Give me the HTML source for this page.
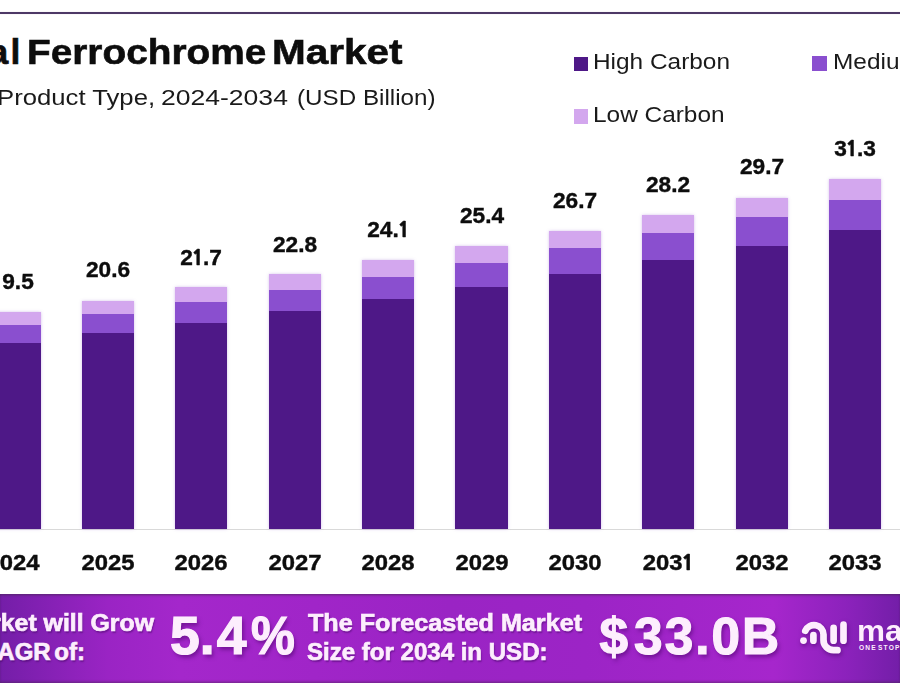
<!DOCTYPE html>
<html><head><meta charset="utf-8"><style>
html,body{margin:0;padding:0;}
body{width:900px;height:700px;overflow:hidden;position:relative;background:#fff;font-family:'Liberation Sans', Arial, sans-serif;}
.t{position:absolute;white-space:nowrap;line-height:1;}
.bar{position:absolute;box-shadow:0 0 3px rgba(140,90,200,0.35);}
.seg{position:absolute;left:0;width:100%;}
.n1{font-family:'NanumGothic','Liberation Sans',sans-serif;font-weight:800;font-size:0.91em;margin:0 -1.2px 0 -1.2px;}
</style></head><body>
<div style="position:absolute;left:0;top:12px;width:900px;height:2px;background:#4d3866;box-shadow:0 0 1px rgba(120,60,140,0.35);"></div>
<div class="t" style="left:-577.50px;width:600px;text-align:right;top:35.25px;font-size:35.5px;font-weight:700;color:#0d0d0d;letter-spacing:2.2px;-webkit-text-stroke:0.6px #0d0d0d;">Global</div>
<div class="t" style="left:27.10px;top:35.25px;font-size:35.5px;font-weight:700;color:#0d0d0d;letter-spacing:0px;transform:scaleX(1.0926);transform-origin:0 0;-webkit-text-stroke:0.6px #0d0d0d;">Ferrochrome</div>
<div class="t" style="left:272.40px;top:35.25px;font-size:35.5px;font-weight:700;color:#0d0d0d;letter-spacing:0px;transform:scaleX(1.141);transform-origin:0 0;-webkit-text-stroke:0.6px #0d0d0d;">Market</div>
<div class="t" style="left:-2.80px;top:86.78px;font-size:22px;font-weight:400;color:#1a1a1a;letter-spacing:0px;transform:scaleX(1.168);transform-origin:0 0;">Product Type,</div>
<div class="t" style="left:161.00px;top:86.78px;font-size:22px;font-weight:400;color:#1a1a1a;letter-spacing:0px;transform:scaleX(1.206);transform-origin:0 0;">2024-2034</div>
<div class="t" style="left:296.80px;top:86.78px;font-size:22px;font-weight:400;color:#1a1a1a;letter-spacing:0px;transform:scaleX(1.1);transform-origin:0 0;">(USD Billion)</div>
<div style="position:absolute;left:573.5px;top:56.5px;width:14.5px;height:14.5px;background:#4e1887;"></div>
<div class="t" style="left:593.20px;top:51.80px;font-size:21.5px;font-weight:400;color:#1a1a1a;letter-spacing:0px;transform:scaleX(1.135);transform-origin:0 0;">High Carbon</div>
<div style="position:absolute;left:812px;top:56.3px;width:14.5px;height:14.5px;background:#8a4fcf;"></div>
<div class="t" style="left:832.50px;top:51.80px;font-size:21.5px;font-weight:400;color:#1a1a1a;letter-spacing:0px;transform:scaleX(1.135);transform-origin:0 0;">Medium Carbon</div>
<div style="position:absolute;left:573.5px;top:109px;width:14.5px;height:14.5px;background:#d3a7ee;"></div>
<div class="t" style="left:593.20px;top:105.00px;font-size:21.5px;font-weight:400;color:#1a1a1a;letter-spacing:0px;transform:scaleX(1.135);transform-origin:0 0;">Low Carbon</div>
<div style="position:absolute;left:0;top:529px;width:900px;height:1px;background:#d9d9d9;"></div>
<div class="bar" style="left:-11.49px;top:311.80px;width:52.2px;height:217.00px;background:#4e1887;"><div class="seg" style="top:0;height:12.80px;background:#d3a7ee;"></div><div class="seg" style="top:12.80px;height:18.10px;background:#8a4fcf;"></div></div>
<div class="t" style="left:-287.39px;width:600px;text-align:center;top:270.78px;font-size:22px;font-weight:700;color:#0d0d0d;letter-spacing:0px;transform:scaleX(1.03);transform-origin:50% 0;-webkit-text-stroke:0.4px #0d0d0d;"><span class="n1">1</span>9.5</div>
<div class="t" style="left:-286.59px;width:600px;text-align:center;top:552.32px;font-size:22.3px;font-weight:700;color:#0d0d0d;letter-spacing:0px;transform:scaleX(1.07);transform-origin:50% 0;-webkit-text-stroke:0.4px #0d0d0d;">2024</div>
<div class="bar" style="left:81.90px;top:300.50px;width:52.2px;height:228.30px;background:#4e1887;"><div class="seg" style="top:0;height:13.00px;background:#d3a7ee;"></div><div class="seg" style="top:13.00px;height:19.50px;background:#8a4fcf;"></div></div>
<div class="t" style="left:-192.00px;width:600px;text-align:center;top:259.08px;font-size:22px;font-weight:700;color:#0d0d0d;letter-spacing:0px;transform:scaleX(1.03);transform-origin:50% 0;-webkit-text-stroke:0.4px #0d0d0d;">20.6</div>
<div class="t" style="left:-192.00px;width:600px;text-align:center;top:552.32px;font-size:22.3px;font-weight:700;color:#0d0d0d;letter-spacing:0px;transform:scaleX(1.07);transform-origin:50% 0;-webkit-text-stroke:0.4px #0d0d0d;">2025</div>
<div class="bar" style="left:175.29px;top:286.90px;width:52.2px;height:241.90px;background:#4e1887;"><div class="seg" style="top:0;height:14.90px;background:#d3a7ee;"></div><div class="seg" style="top:14.90px;height:21.10px;background:#8a4fcf;"></div></div>
<div class="t" style="left:-98.61px;width:600px;text-align:center;top:246.78px;font-size:22px;font-weight:700;color:#0d0d0d;letter-spacing:0px;transform:scaleX(1.03);transform-origin:50% 0;-webkit-text-stroke:0.4px #0d0d0d;">2<span class="n1">1</span>.7</div>
<div class="t" style="left:-98.61px;width:600px;text-align:center;top:552.32px;font-size:22.3px;font-weight:700;color:#0d0d0d;letter-spacing:0px;transform:scaleX(1.07);transform-origin:50% 0;-webkit-text-stroke:0.4px #0d0d0d;">2026</div>
<div class="bar" style="left:268.68px;top:274.40px;width:52.2px;height:254.40px;background:#4e1887;"><div class="seg" style="top:0;height:15.60px;background:#d3a7ee;"></div><div class="seg" style="top:15.60px;height:21.30px;background:#8a4fcf;"></div></div>
<div class="t" style="left:-5.22px;width:600px;text-align:center;top:233.78px;font-size:22px;font-weight:700;color:#0d0d0d;letter-spacing:0px;transform:scaleX(1.03);transform-origin:50% 0;-webkit-text-stroke:0.4px #0d0d0d;">22.8</div>
<div class="t" style="left:-5.22px;width:600px;text-align:center;top:552.32px;font-size:22.3px;font-weight:700;color:#0d0d0d;letter-spacing:0px;transform:scaleX(1.07);transform-origin:50% 0;-webkit-text-stroke:0.4px #0d0d0d;">2027</div>
<div class="bar" style="left:362.07px;top:260.30px;width:52.2px;height:268.50px;background:#4e1887;"><div class="seg" style="top:0;height:16.40px;background:#d3a7ee;"></div><div class="seg" style="top:16.40px;height:22.70px;background:#8a4fcf;"></div></div>
<div class="t" style="left:88.17px;width:600px;text-align:center;top:219.48px;font-size:22px;font-weight:700;color:#0d0d0d;letter-spacing:0px;transform:scaleX(1.03);transform-origin:50% 0;-webkit-text-stroke:0.4px #0d0d0d;">24.<span class="n1">1</span></div>
<div class="t" style="left:88.17px;width:600px;text-align:center;top:552.32px;font-size:22.3px;font-weight:700;color:#0d0d0d;letter-spacing:0px;transform:scaleX(1.07);transform-origin:50% 0;-webkit-text-stroke:0.4px #0d0d0d;">2028</div>
<div class="bar" style="left:455.46px;top:246.20px;width:52.2px;height:282.60px;background:#4e1887;"><div class="seg" style="top:0;height:17.10px;background:#d3a7ee;"></div><div class="seg" style="top:17.10px;height:23.70px;background:#8a4fcf;"></div></div>
<div class="t" style="left:181.56px;width:600px;text-align:center;top:204.88px;font-size:22px;font-weight:700;color:#0d0d0d;letter-spacing:0px;transform:scaleX(1.03);transform-origin:50% 0;-webkit-text-stroke:0.4px #0d0d0d;">25.4</div>
<div class="t" style="left:181.56px;width:600px;text-align:center;top:552.32px;font-size:22.3px;font-weight:700;color:#0d0d0d;letter-spacing:0px;transform:scaleX(1.07);transform-origin:50% 0;-webkit-text-stroke:0.4px #0d0d0d;">2029</div>
<div class="bar" style="left:548.85px;top:231.20px;width:52.2px;height:297.60px;background:#4e1887;"><div class="seg" style="top:0;height:16.80px;background:#d3a7ee;"></div><div class="seg" style="top:16.80px;height:25.70px;background:#8a4fcf;"></div></div>
<div class="t" style="left:274.95px;width:600px;text-align:center;top:189.88px;font-size:22px;font-weight:700;color:#0d0d0d;letter-spacing:0px;transform:scaleX(1.03);transform-origin:50% 0;-webkit-text-stroke:0.4px #0d0d0d;">26.7</div>
<div class="t" style="left:274.95px;width:600px;text-align:center;top:552.32px;font-size:22.3px;font-weight:700;color:#0d0d0d;letter-spacing:0px;transform:scaleX(1.07);transform-origin:50% 0;-webkit-text-stroke:0.4px #0d0d0d;">2030</div>
<div class="bar" style="left:642.24px;top:214.90px;width:52.2px;height:313.90px;background:#4e1887;"><div class="seg" style="top:0;height:18.20px;background:#d3a7ee;"></div><div class="seg" style="top:18.20px;height:27.20px;background:#8a4fcf;"></div></div>
<div class="t" style="left:368.34px;width:600px;text-align:center;top:173.88px;font-size:22px;font-weight:700;color:#0d0d0d;letter-spacing:0px;transform:scaleX(1.03);transform-origin:50% 0;-webkit-text-stroke:0.4px #0d0d0d;">28.2</div>
<div class="t" style="left:368.34px;width:600px;text-align:center;top:552.32px;font-size:22.3px;font-weight:700;color:#0d0d0d;letter-spacing:0px;transform:scaleX(1.07);transform-origin:50% 0;-webkit-text-stroke:0.4px #0d0d0d;">203<span class="n1">1</span></div>
<div class="bar" style="left:735.63px;top:197.90px;width:52.2px;height:330.90px;background:#4e1887;"><div class="seg" style="top:0;height:18.90px;background:#d3a7ee;"></div><div class="seg" style="top:18.90px;height:29.30px;background:#8a4fcf;"></div></div>
<div class="t" style="left:461.73px;width:600px;text-align:center;top:156.08px;font-size:22px;font-weight:700;color:#0d0d0d;letter-spacing:0px;transform:scaleX(1.03);transform-origin:50% 0;-webkit-text-stroke:0.4px #0d0d0d;">29.7</div>
<div class="t" style="left:461.73px;width:600px;text-align:center;top:552.32px;font-size:22.3px;font-weight:700;color:#0d0d0d;letter-spacing:0px;transform:scaleX(1.07);transform-origin:50% 0;-webkit-text-stroke:0.4px #0d0d0d;">2032</div>
<div class="bar" style="left:829.02px;top:179.10px;width:52.2px;height:349.70px;background:#4e1887;"><div class="seg" style="top:0;height:20.90px;background:#d3a7ee;"></div><div class="seg" style="top:20.90px;height:29.80px;background:#8a4fcf;"></div></div>
<div class="t" style="left:555.12px;width:600px;text-align:center;top:138.08px;font-size:22px;font-weight:700;color:#0d0d0d;letter-spacing:0px;transform:scaleX(1.03);transform-origin:50% 0;-webkit-text-stroke:0.4px #0d0d0d;">3<span class="n1">1</span>.3</div>
<div class="t" style="left:555.12px;width:600px;text-align:center;top:552.32px;font-size:22.3px;font-weight:700;color:#0d0d0d;letter-spacing:0px;transform:scaleX(1.07);transform-origin:50% 0;-webkit-text-stroke:0.4px #0d0d0d;">2033</div>
<div style="position:absolute;left:0;top:593.5px;width:900px;height:89.5px;background:linear-gradient(90deg,#741ea8 0%,#9a24c4 12%,#a427cb 20%,#a025c8 35%,#9a24c4 50%,#9c24c6 65%,#a626cc 86%,#8c22bc 94%,#731ea8 100%);box-shadow:inset 0 2px 2px -0.5px rgba(70,40,80,0.55),inset 0 -2px 2px -0.5px rgba(70,40,80,0.45);"></div>
<div class="t" style="left:-446.00px;width:600px;text-align:right;top:610.98px;font-size:24px;font-weight:700;color:#fdeefd;letter-spacing:0px;transform:scaleX(1.035);transform-origin:100% 0;text-shadow:1px 1.5px 1.5px rgba(60,0,90,0.45);-webkit-text-stroke:0.7px #fdeefd;">The Market will Grow</div>
<div class="t" style="left:-515.00px;width:600px;text-align:right;top:639.68px;font-size:24px;font-weight:700;color:#fdeefd;letter-spacing:0px;text-shadow:1px 1.5px 1.5px rgba(60,0,90,0.45);-webkit-text-stroke:0.7px #fdeefd;word-spacing:-3px;">At the CAGR of:</div>
<div class="t" style="left:170.00px;top:609.43px;font-size:53.6px;font-weight:700;color:#fdeefd;letter-spacing:0px;text-shadow:2px 3px 4px rgba(70,0,100,0.55);-webkit-text-stroke:1.2px #fdeefd;">5.<span style="margin-left:2px">4</span><span style="display:inline-block;margin-left:4px;transform:scaleX(0.92);transform-origin:0 0">%</span></div>
<div class="t" style="left:307.70px;top:611.21px;font-size:24.2px;font-weight:700;color:#fdeefd;letter-spacing:0px;transform:scaleX(1.04);transform-origin:0 0;text-shadow:1px 1.5px 1.5px rgba(60,0,90,0.45);-webkit-text-stroke:0.7px #fdeefd;">The Forecasted Market</div>
<div class="t" style="left:306.70px;top:639.51px;font-size:24.2px;font-weight:700;color:#fdeefd;letter-spacing:0px;transform:scaleX(0.994);transform-origin:0 0;text-shadow:1px 1.5px 1.5px rgba(60,0,90,0.45);-webkit-text-stroke:0.7px #fdeefd;">Size for 2034 in USD:</div>
<div class="t" style="left:599.50px;top:611.09px;font-size:51.4px;font-weight:700;color:#fdeefd;letter-spacing:2.0px;text-shadow:2px 3px 4px rgba(70,0,100,0.55);-webkit-text-stroke:1.2px #fdeefd;"><span style="letter-spacing:6px">$</span>33.0B</div>
<svg style="position:absolute;left:0;top:0;filter:drop-shadow(1px 2px 2px rgba(60,0,90,0.5));" width="900" height="700" viewBox="0 0 900 700">
<g fill="none" stroke="#fdeefd" stroke-width="6.7" stroke-linecap="round">
<path d="M805.3 630.8 A9.5 9.5 0 0 1 823.5 634.5 L823.5 640 A10 10 0 0 0 833.5 650.2 L837.5 650.2"/>
<path d="M813.4 635 L813.4 640.7"/>
<path d="M833.6 627.8 L833.6 640.7"/>
<path d="M843.5 624.7 L843.5 640.7"/>
</g>
<circle cx="803.5" cy="640.6" r="3.4" fill="#fdeefd"/>
</svg>
<div class="t" style="left:856.50px;top:616.21px;font-size:30px;font-weight:700;color:#fdeefd;letter-spacing:0px;transform:scaleX(1.05);transform-origin:0 0;">market.us</div>
<div class="t" style="left:859.00px;top:645.21px;font-size:6.6px;font-weight:700;color:#fdeefd;letter-spacing:1.2px;word-spacing:-2px;">ONE STOP SHOP FOR THE REPORTS</div>
</body></html>
